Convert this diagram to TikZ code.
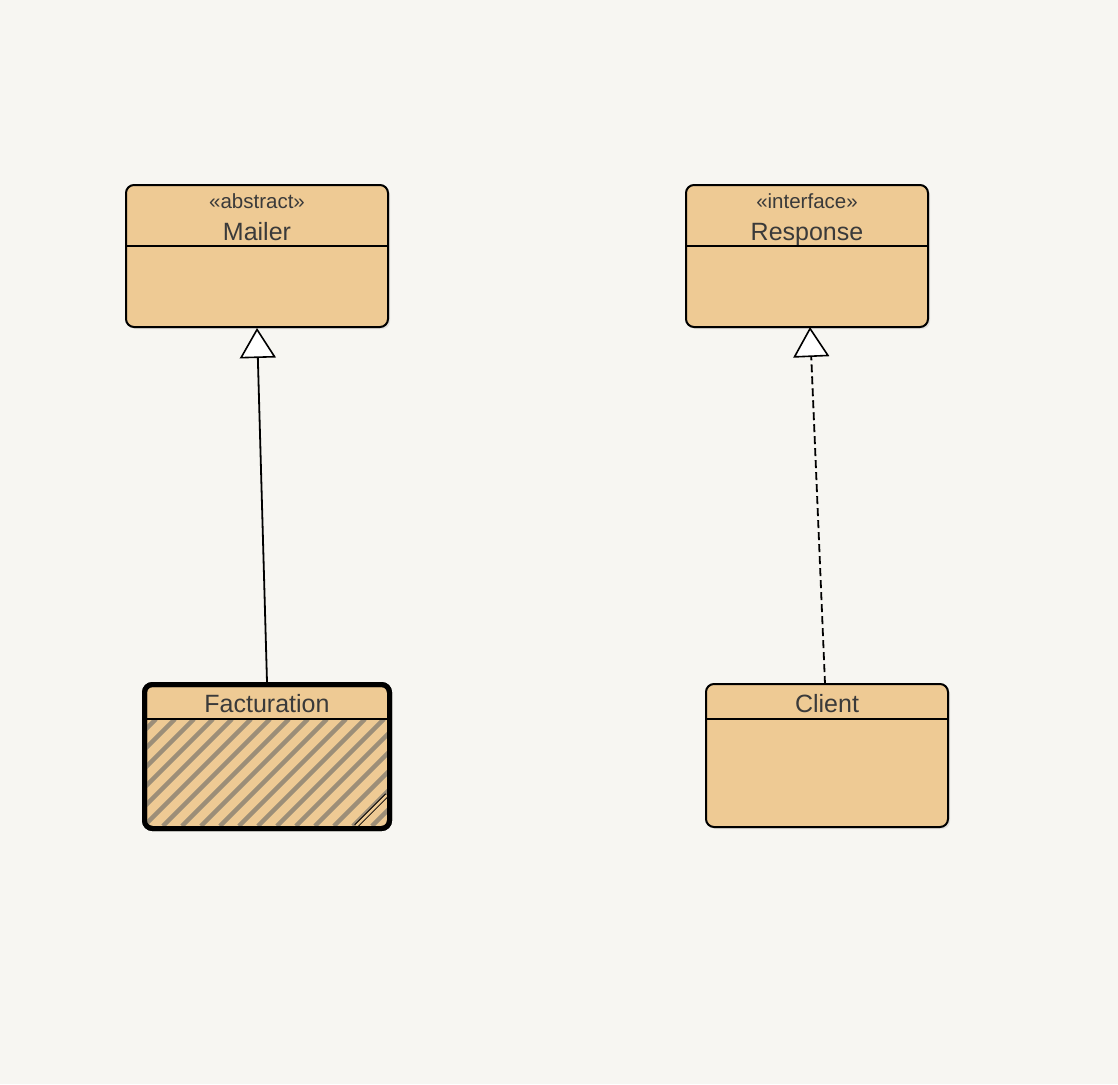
\documentclass[tikz,border=0pt]{standalone}
\usepackage{fontspec}
\setmainfont{Liberation Sans}
\usepackage{tikz}
\usetikzlibrary{
  arrows.meta,
  positioning,
  shadows
}
\definecolor{bgpaper}{RGB}{247,246,242}
\definecolor{classfill}{RGB}{238,202,148}
\definecolor{inktext}{RGB}{58,58,58}
\definecolor{hatchgray}{RGB}{156,142,120}

\begin{document}
\begin{tikzpicture}[
      x=1pt,y=-1pt,
      classbox/.style={
         rectangle,
         rounded corners=8pt,
         line width=2pt,
         draw=black,
         fill=classfill,
         inner sep=0pt,
         drop shadow={opacity=0.18,shadow xshift=2pt,shadow yshift=-2pt}
      },
      boldbox/.style={
         classbox,
         line width=5pt
      },
      classname/.style={
         inner sep=0pt,
         anchor=base,
         text=inktext,
         font=\fontsize{25}{28}\selectfont
      },
      stereo/.style={
         inner sep=0pt,
         anchor=base,
         text=inktext,
         font=\fontsize{20.5}{23}\selectfont
      },
      divider/.style={line width=2pt},
      generalize/.style={
         line width=1.8pt,
         -{Triangle[width=36pt,length=30pt,fill=white,line width=1.6pt]}
      },
      realize/.style={generalize,dash pattern=on 8pt off 4pt},
      hatch/.style={draw=hatchgray,line width=4.5pt}
    ]
    % paper
    \fill[bgpaper] (0,0) rectangle (1118,1084);
    \useasboundingbox (0,0) rectangle (1118,1084);

    % classes
    \node (mailer) [classbox, minimum width=262pt, minimum height=142pt] at (257,256) {};
    \node (mailerst) [stereo] at (257,208) {«abstract»};
    \node (mailername) [classname] at (257,240) {Mailer};
    \draw[divider] (mailer.west |- 0,246) -- (mailer.east |- 0,246);

    \node (response) [classbox, minimum width=242pt, minimum height=142pt] at (807,256) {};
    \node (responsest) [stereo] at (807,208) {«interface»};
    \node (responsename) [classname] at (807,240) {Response};
    \draw[divider] (response.west |- 0,246) -- (response.east |- 0,246);

    \node (client) [classbox, minimum width=242pt, minimum height=143pt] at (827,755.5) {};
    \node (clientname) [classname] at (827,712) {Client};
    \draw[divider] (client.west |- 0,719) -- (client.east |- 0,719);

    \node (facturation) [boldbox, minimum width=245pt, minimum height=144pt] at (267,756.5) {};
    \begin{scope}
      \clip (147,719) rectangle (387,826);
      \foreach \k in {0,19,...,380}
        \draw[hatch] (\k+30,826) -- (\k+137,719);
    \end{scope}
    \draw[double=classfill,double distance=2.5pt,line width=1pt] (356,826) -- (387,795);
    \draw[line width=5pt,rounded corners=8pt] (144.5,684.5) rectangle (389.5,828.5);
    \node (facturationname) [classname] at (267,712) {Facturation};
    \draw[divider] (147,718.5) -- (387,718.5);

    % relations
    \coordinate (clienttop) at (825,684);
    \coordinate (responsefoot) at (810,327);
    \draw[generalize] (facturation.north) -- (mailer.south);
    \draw[realize] (clienttop) -- (responsefoot);
\end{tikzpicture}
\end{document}
